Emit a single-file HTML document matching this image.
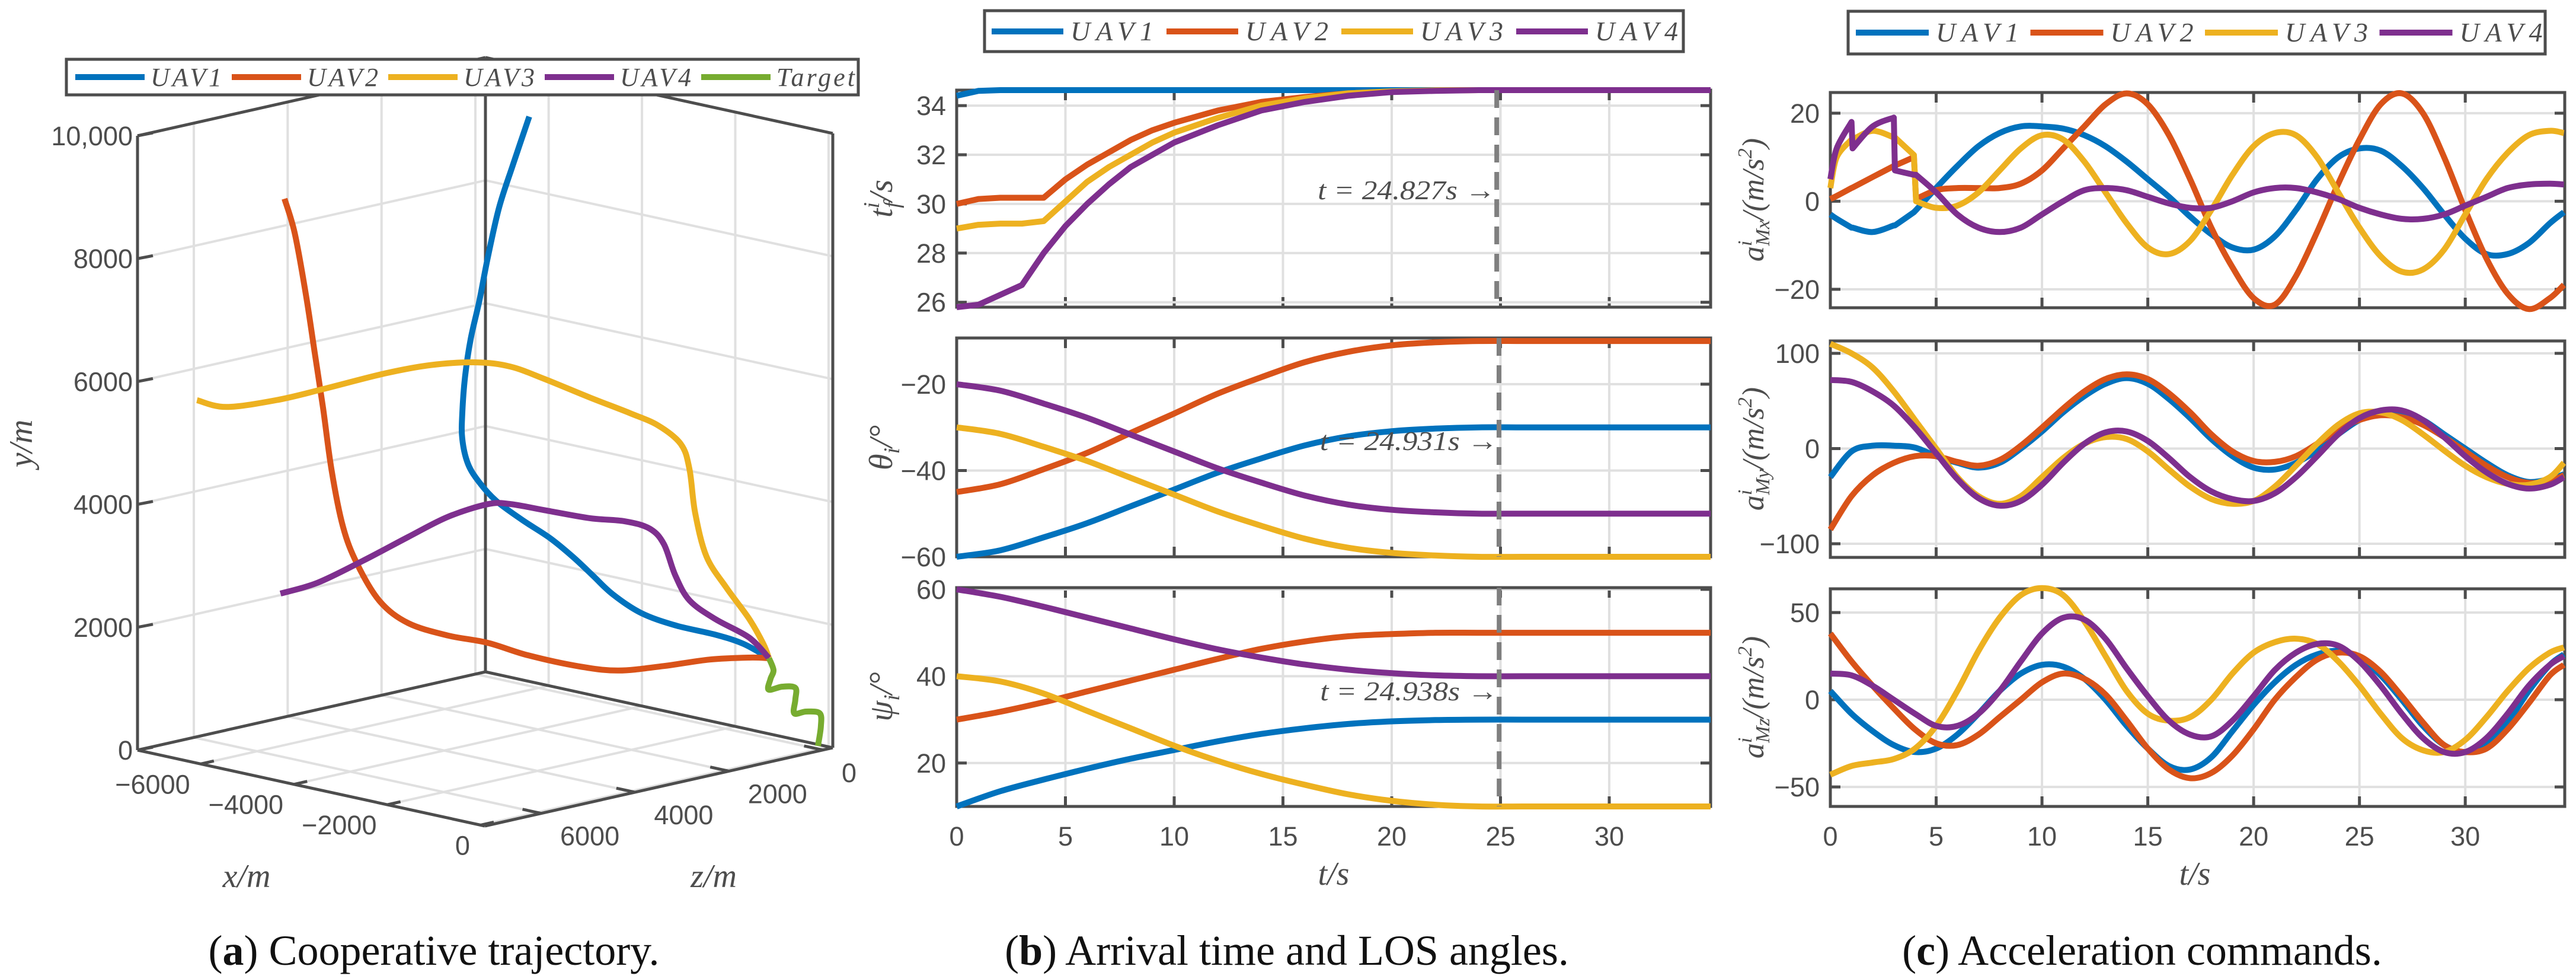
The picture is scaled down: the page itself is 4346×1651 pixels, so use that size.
<!DOCTYPE html>
<html><head><meta charset="utf-8">
<style>
html,body{margin:0;padding:0;background:#fff;}
svg{display:block;}
.tk{font-family:"Liberation Sans",sans-serif;font-size:45px;fill:#4d4d4d;}
.it{font-family:"Liberation Serif",serif;font-style:italic;fill:#4d4d4d;}
.cap{font-family:"Liberation Serif",serif;font-size:72px;fill:#111;}
</style></head>
<body>
<svg id="fig" width="4346" height="1651" viewBox="0 0 4346 1651" xmlns="http://www.w3.org/2000/svg">
<rect x="0" y="0" width="4346" height="1651" fill="#fff"/>
<g id="layer-a"></g>
<g id="layer-b"></g>
<g id="layer-c"></g>

<text class="it" font-size="56" transform="translate(54,748) rotate(-90)" text-anchor="middle">y/m</text>
<text class="it" font-size="56" x="416" y="1496" text-anchor="middle">x/m</text>
<text class="it" font-size="56" x="1204" y="1496" text-anchor="middle">z/m</text>
<text class="cap" x="732" y="1627" text-anchor="middle">(<tspan font-weight="bold">a</tspan>) Cooperative trajectory.</text>

<text class="it" font-size="56" transform="translate(1505,335) rotate(-90)" text-anchor="middle">t<tspan font-size="38" dy="-22">i</tspan><tspan font-size="38" dx="-10" dy="34">f</tspan><tspan dy="-12">/s</tspan></text>
<text class="it" font-size="56" transform="translate(1505,755) rotate(-90)" text-anchor="middle">θ<tspan font-size="38" dy="12">i</tspan><tspan dy="-12">/°</tspan></text>
<text class="it" font-size="56" transform="translate(1505,1175) rotate(-90)" text-anchor="middle">ψ<tspan font-size="38" dy="12">i</tspan><tspan dy="-12">/°</tspan></text>
<text class="it" font-size="56" x="2250" y="1492" text-anchor="middle">t/s</text>
<text class="cap" x="2171" y="1627" text-anchor="middle">(<tspan font-weight="bold">b</tspan>) Arrival time and LOS angles.</text>

<text class="it" font-size="52" transform="translate(2975,337) rotate(-90)" text-anchor="middle">a<tspan font-size="34" dy="-20">i</tspan><tspan font-size="34" dx="-9" dy="30">Mx</tspan><tspan dy="-10">/(m/s</tspan><tspan font-size="34" dy="-20">2</tspan><tspan dy="20">)</tspan></text>
<text class="it" font-size="52" transform="translate(2975,757) rotate(-90)" text-anchor="middle">a<tspan font-size="34" dy="-20">i</tspan><tspan font-size="34" dx="-9" dy="30">My</tspan><tspan dy="-10">/(m/s</tspan><tspan font-size="34" dy="-20">2</tspan><tspan dy="20">)</tspan></text>
<text class="it" font-size="52" transform="translate(2975,1176) rotate(-90)" text-anchor="middle">a<tspan font-size="34" dy="-20">i</tspan><tspan font-size="34" dx="-9" dy="30">Mz</tspan><tspan dy="-10">/(m/s</tspan><tspan font-size="34" dy="-20">2</tspan><tspan dy="20">)</tspan></text>
<text class="it" font-size="56" x="3703" y="1492" text-anchor="middle">t/s</text>
<text class="cap" x="3614" y="1627" text-anchor="middle">(<tspan font-weight="bold">c</tspan>) Acceleration commands.</text>
</svg>

<script>
const uav1X = [-3160,-3330,-3482,-3604,-3695,-3786,-3847,-3877,-3877,-3817,-3695,-3512,-3239,-2934,-2691,-2478,-2265,-1961,-1596,-1170,-866,-593];
const uav1Y = [10290,9527,8815,8001,7289,6679,6069,5459,5052,4645,4340,4035,3730,3425,3120,2815,2509,2204,2001,1848,1696,1462];
const uav1Z = [3023,3192,3344,3465,3556,3647,3707,3738,3738,3677,3556,3374,3102,2799,2556,2344,2132,1830,1466,1042,739,467];
const uav2X = [-5781,-5672,-5550,-5459,-5368,-5276,-5155,-5003,-4759,-4455,-4029,-3604,-3117,-2630,-2205,-1718,-1231,-805,-593];
const uav2Y = [8967,8408,7391,6476,5561,4543,3628,3018,2408,2052,1848,1727,1544,1340,1269,1340,1442,1472,1462];
const uav2Z = [5633,5524,5403,5312,5222,5131,5010,4858,4616,4313,3889,3465,3102,2496,2072,1587,1103,679,467];
const uav3X = [-6718,-6402,-5854,-5368,-4699,-4212,-3725,-3360,-2995,-2509,-2083,-1779,-1535,-1444,-1383,-1262,-1049,-805,-653,-593];
const uav3Y = [5693,5581,5693,5866,6120,6252,6293,6222,6018,5713,5459,5255,4950,4544,3831,3120,2611,2103,1696,1462];
const uav3Z = [6566,6251,5706,5222,4555,4071,3586,3223,2859,2375,1951,1648,1406,1315,1254,1133,921,679,527,467];
const uav4X = [-5824,-5429,-4942,-4455,-4029,-3604,-3360,-2995,-2509,-2144,-1870,-1718,-1596,-1444,-1170,-805,-593];
const uav4Y = [2540,2713,3069,3455,3781,3984,3984,3883,3750,3700,3577,3323,2815,2408,2103,1798,1462];
const uav4Z = [5676,5282,4798,4313,3889,3465,3223,2859,2375,2011,1739,1587,1466,1315,1042,679,467];
const targetX = [-69,-37,-50,-196,-323,-311,-311,-450,-596,-577,-545,-593];
const targetY = [30,348,561,590,562,784,977,997,950,1123,1268,1462];
const targetZ = [-56,-87,-75,71,197,185,185,324,470,450,418,467];
const xTicks3 = [-6000,-4000,-2000,0];
const zTicks3 = [0,2000,4000,6000];
const yTicks3 = [0,2000,4000,6000,8000,10000];
const yTickLabels3 = ['0','2000','4000','6000','8000','10,000'];

const tB = [0,1,2,3,4,5,6,7,8,9,10,12,14,16,18,20,22,24,26,28,30,32,34.66];
const tf1 = [34.4,34.6,34.63,34.63,34.63,34.63,34.63,34.63,34.63,34.63,34.63,34.63,34.63,34.63,34.63,34.63,34.63,34.63,34.63,34.63,34.63,34.63,34.63];
const tf2 = [30,30.2,30.25,30.25,30.25,31,31.6,32.1,32.6,33,33.3,33.8,34.15,34.35,34.5,34.58,34.62,34.63,34.63,34.63,34.63,34.63,34.63];
const tf3 = [29,29.15,29.2,29.2,29.3,30.1,30.9,31.5,32,32.5,32.9,33.5,34,34.3,34.5,34.58,34.62,34.63,34.63,34.63,34.63,34.63,34.63];
const tf4 = [25.8,25.9,26.3,26.7,28,29.1,30,30.8,31.5,32,32.5,33.2,33.8,34.15,34.4,34.55,34.6,34.63,34.63,34.63,34.63,34.63,34.63];
const tA = [0,2,4,6,8,10,12,14,16,18,20,22,24,26,28,30,32,34.66];
const th1 = [-60,-58.5,-55.5,-52.2,-48.3,-44.4,-40.5,-37.2,-34.2,-32.1,-30.9,-30.3,-30,-30,-30,-30,-30,-30];
const th2 = [-45,-43.2,-39.7,-35.9,-31.3,-26.8,-22.2,-18.4,-14.9,-12.5,-11,-10.3,-10,-10,-10,-10,-10,-10];
const th3 = [-30,-31.5,-34.5,-37.8,-41.7,-45.6,-49.5,-52.8,-55.8,-57.9,-59.1,-59.7,-60,-60,-60,-60,-60,-60];
const th4 = [-20,-21.5,-24.5,-27.8,-31.7,-35.6,-39.5,-42.8,-45.8,-47.9,-49.1,-49.7,-50,-50,-50,-50,-50,-50];
const ps1 = [10,13.5,16.2,18.7,21,23,25,26.7,28,29,29.6,29.9,30,30,30,30,30,30];
const ps2 = [30,31.8,34,36.5,39,41.5,44,46.3,48,49.2,49.7,50,50,50,50,50,50,50];
const ps3 = [40,38.8,36,32,28,24,20.5,17.5,15,12.8,11.3,10.4,10,10,10,10,10,10];
const ps4 = [60,58.3,56,53.5,51,48.5,46.2,44.3,42.7,41.5,40.7,40.2,40,40,40,40,40,40];
const convTimes = [24.827,24.931,24.938];
const convLabels = ['t = 24.827s →','t = 24.931s →','t = 24.938s →'];
const xTicksB = [0,5,10,15,20,25,30];
const yTicksTf = [26,28,30,32,34];
const yTicksTh = [-60,-40,-20];
const yTicksPs = [20,40,60];

const tCx = [0,0.3,1,1.05,2,3,3.05,3.95,4.05,5,6,7,8,9,10,11,12,13,14,15,16,17,18,19,20,21,22,23,24,25,26,27,28,29,30,31,32,33,34,34.66];
const mx1 = [-3,-4,-6,-6,-7,-5.5,-5.5,-2.5,-2,3,8,12.5,15.5,17,17,16.5,15,12.5,9,5,1,-3.5,-7.5,-10.5,-11,-8,-2,5,10,12,11.5,8,3,-3,-8.5,-12,-12,-9.5,-5,-2.5];
const mx2 = [0.5,1.2,3,3.1,5.5,8,8.1,10,0.5,2.5,3,3,3,4,7,12,17,22,24.5,22,15,5,-6,-15,-22,-23.5,-17,-7,4,14,22,24.5,20,10,-2,-13,-21,-24.5,-22,-19];
const mx3 = [3,10,14,14,16,14.5,14.5,10.5,0,-1.5,-1,2,7,12,15,14,9,2,-5,-10.5,-12,-9,-2,6,12.5,15.5,15,10,2,-6,-12.5,-16,-15.5,-11,-3,5,11,15,16,15.5];
const mx4 = [5,12,18,12,17,19,7,6,6,2,-3,-6,-7,-6,-3,0,2.5,3,2.5,1,-0.5,-1.5,-1.5,0,2,3,3,2,0.5,-1.5,-3,-4,-4,-3,-1,1,3,3.8,4,3.8];
const tC = [0,1,2,3,4,5,6,7,8,9,10,11,12,13,14,15,16,17,18,19,20,21,22,23,24,25,26,27,28,29,30,31,32,33,34,34.66];
const my1 = [-30,-3,3,3,1,-8,-15,-20,-15,0,18,38,55,68,74,68,52,32,10,-8,-20,-22,-15,-2,15,30,38,38,30,15,0,-15,-28,-35,-32,-27];
const my2 = [-85,-50,-28,-15,-8,-8,-14,-18,-12,3,22,42,60,73,78,73,58,38,15,-3,-13,-14,-8,5,20,30,35,33,25,12,-3,-18,-30,-36,-34,-28];
const my3 = [110,100,85,60,30,0,-30,-50,-58,-50,-30,-10,5,12,10,-3,-22,-40,-53,-58,-55,-40,-18,5,25,37,38,30,15,-2,-18,-30,-37,-38,-30,-15];
const my4 = [72,70,60,45,22,-5,-32,-52,-60,-55,-38,-15,5,17,18,8,-10,-30,-45,-53,-55,-47,-30,-8,15,32,40,40,30,12,-8,-25,-37,-42,-38,-30];
const mz1 = [5,-8,-18,-26,-30,-28,-20,-8,5,15,20,19,12,0,-15,-28,-38,-40,-33,-18,-3,10,20,26,28,24,14,0,-15,-26,-30,-26,-13,5,20,26];
const mz2 = [38,22,8,-5,-17,-25,-26,-20,-10,0,10,15,12,3,-12,-28,-40,-45,-42,-32,-17,0,13,23,27,25,16,2,-13,-26,-30,-28,-17,-2,14,20];
const mz3 = [-43,-38,-36,-34,-28,-15,5,28,47,60,64,60,45,25,5,-8,-12,-10,0,15,27,33,35,32,22,8,-8,-22,-29,-30,-23,-10,5,18,27,30];
const mz4 = [15,14,8,0,-8,-15,-15,-8,5,22,38,47,46,35,18,2,-12,-20,-21,-12,2,17,27,32,31,22,8,-8,-22,-30,-30,-22,-8,8,20,25];
const yTicksMx = [-20,0,20];
const yTicksMy = [-100,0,100];
const yTicksMz = [-50,0,50];
const seriesNames = ['UAV1','UAV2','UAV3','UAV4','Target'];

const NS = 'http://www.w3.org/2000/svg';
const COLORS = ['#0072BD','#D95319','#EDB120','#7E2F8E','#77AC30'];
const AX = '#4d4d4d', GRID = '#e0e0e0';
const LW = 10;
function mk(tag, attrs, parent){
  const e = document.createElementNS(NS, tag);
  for (const k in attrs) e.setAttribute(k, attrs[k]);
  parent.appendChild(e);
  return e;
}
function fmt(v){ return (v < 0 ? '\u2212' : '') + Math.abs(v); }
function smoothPath(pts, ts){
  let d = 'M' + pts[0][0].toFixed(1) + ',' + pts[0][1].toFixed(1);
  const n = pts.length;
  const J = 0.1;
  for (let i = 0; i < n - 1; i++){
    const p1 = pts[i], p2 = pts[i+1];
    if (ts[i+1] - ts[i] < J){ d += 'L' + p2[0].toFixed(1) + ',' + p2[1].toFixed(1); continue; }
    let p0 = (i > 0 && ts[i] - ts[i-1] >= J) ? pts[i-1] : p1;
    let p3 = (i + 2 < n && ts[i+2] - ts[i+1] >= J) ? pts[i+2] : p2;
    const c1 = [p1[0] + (p2[0]-p0[0])/6, p1[1] + (p2[1]-p0[1])/6];
    const c2 = [p2[0] - (p3[0]-p1[0])/6, p2[1] - (p3[1]-p1[1])/6];
    d += 'C' + c1[0].toFixed(1) + ',' + c1[1].toFixed(1) + ' ' + c2[0].toFixed(1) + ',' + c2[1].toFixed(1) + ' ' + p2[0].toFixed(1) + ',' + p2[1].toFixed(1);
  }
  return d;
}

(function(){
  const g = document.getElementById('layer-a');
  const XMIN = -7355, XMAX = 90, ZMIN = -214, ZMAX = 7200;
  const R = [1405, 1261], BU = [-586, -128], FV = [-587, 132], YS = 0.1036;
  function P(x, y, z){
    const u = (XMAX - x) / (XMAX - XMIN), v = (z - ZMIN) / (ZMAX - ZMIN);
    return [R[0] + u*BU[0] + v*FV[0], R[1] + u*BU[1] + v*FV[1] - y*YS];
  }
  function seg(a, b, color, w, name){
    const l = mk('line', {x1:a[0], y1:a[1], x2:b[0], y2:b[1], stroke:color, 'stroke-width':w, 'stroke-linecap':'butt'}, g);
    
    
    return l;
  }
  yTicks3.forEach(y => { if (y === 0 || y === 10000) return;
    seg(P(XMIN,y,ZMAX), P(XMIN,y,ZMIN), GRID, 4, 'grid-line-y-left-wall');
    seg(P(XMIN,y,ZMIN), P(XMAX,y,ZMIN), GRID, 4, 'grid-line-y-back-wall');
  });
  zTicks3.forEach(z => {
    seg(P(XMIN,0,z), P(XMIN,10000,z), GRID, 4, 'grid-line-z-wall');
    seg(P(XMIN,0,z), P(XMAX,0,z), GRID, 4, 'grid-line-z-floor');
  });
  xTicks3.forEach(x => {
    seg(P(x,0,ZMIN), P(x,10000,ZMIN), GRID, 4, 'grid-line-x-wall');
    seg(P(x,0,ZMIN), P(x,0,ZMAX), GRID, 4, 'grid-line-x-floor');
  });
  const LB = P(XMIN,0,ZMAX), BB = P(XMIN,0,ZMIN), RB = P(XMAX,0,ZMIN), FB = P(XMAX,0,ZMAX);
  const LT = P(XMIN,10000,ZMAX), BT = P(XMIN,10000,ZMIN), RT = P(XMAX,10000,ZMIN);
  [[LB,BB],[BB,RB],[LB,FB],[FB,RB],[BB,BT],[LB,LT],[RB,RT],[LT,BT],[BT,RT]].forEach(e => seg(e[0], e[1], AX, 5, 'axis-box-edge'));
  yTicks3.forEach((y, i) => {
    const p = P(XMIN, y, ZMAX);
    seg(p, [p[0]+26, p[1]-5], AX, 5, 'y-tick-mark');
    const t = mk('text', {x:p[0]-8, y:p[1]+16, 'text-anchor':'end', class:'tk'}, g);
    t.textContent = yTickLabels3[i];
    
    
  });
  xTicks3.forEach(x => {
    const p = P(x, 0, ZMAX), q = P(x, 0, ZMAX - 280);
    seg(p, q, AX, 5, 'x-tick-mark');
    const t = mk('text', {x:p[0]-18, y:p[1]+50, 'text-anchor':'end', class:'tk'}, g);
    t.textContent = fmt(x);
    
    
  });
  zTicks3.forEach(z => {
    const p = P(XMAX, 0, z), q = P(XMAX - 400, 0, z);
    seg(p, q, AX, 5, 'z-tick-mark');
    const t = mk('text', {x:p[0]+32, y:p[1]+54, 'text-anchor':'start', class:'tk'}, g);
    t.textContent = fmt(z);
    
    
  });
  const series = [[uav1X,uav1Y,uav1Z],[uav2X,uav2Y,uav2Z],[uav3X,uav3Y,uav3Z],[uav4X,uav4Y,uav4Z],[targetX,targetY,targetZ]];
  series.forEach((s, k) => {
    const pts = s[0].map((x, i) => P(x, s[1][i], s[2][i]));
    const idx = pts.map((_, i) => i);
    const path = mk('path', {d:smoothPath(pts, idx), fill:'none', stroke:COLORS[k], 'stroke-width':LW, 'stroke-linejoin':'round', 'stroke-linecap':'butt'}, g);
    
    
  });
  const lg = mk('g', {}, g);
  
  
  mk('rect', {x:112, y:100, width:1336, height:60, fill:'#fff', stroke:AX, 'stroke-width':5}, lg);
  seriesNames.forEach((nm, k) => {
    const x0 = 127 + 264*k;
    const l = mk('line', {x1:x0, y1:130, x2:x0+117, y2:130, stroke:COLORS[k], 'stroke-width':LW}, lg);
    
    
    const t = mk('text', {x:x0+127, y:145, class:'it', 'font-size':44, textLength: nm === 'Target' ? 132 : 120, lengthAdjust:'spacing'}, lg);
    t.textContent = nm;
    
    
  });
})();

function axes2D(g, name, box, xlim, ylim, xticks, yticks, showX){
  const sx = v => box.l + (v - xlim[0]) / (xlim[1] - xlim[0]) * (box.r - box.l);
  const sy = v => box.b - (v - ylim[0]) / (ylim[1] - ylim[0]) * (box.b - box.t);
  const ag = mk('g', {}, g);
  
  
  xticks.forEach(v => {
    const x = sx(v);
    const gl = mk('line', {x1:x, y1:box.t, x2:x, y2:box.b, stroke:GRID, 'stroke-width':4}, ag);
    
    
    const t1 = mk('line', {x1:x, y1:box.b, x2:x, y2:box.b-17, stroke:AX, 'stroke-width':5}, ag);
    
    
    const t2 = mk('line', {x1:x, y1:box.t, x2:x, y2:box.t+17, stroke:AX, 'stroke-width':5}, ag);
    
    
    if (showX){
      const t = mk('text', {x:x, y:box.b+66, 'text-anchor':'middle', class:'tk'}, ag);
      t.textContent = fmt(v);
      
      
    }
  });
  yticks.forEach(v => {
    const y = sy(v);
    const gl = mk('line', {x1:box.l, y1:y, x2:box.r, y2:y, stroke:GRID, 'stroke-width':4}, ag);
    
    
    const t1 = mk('line', {x1:box.l, y1:y, x2:box.l+17, y2:y, stroke:AX, 'stroke-width':5}, ag);
    
    
    const t2 = mk('line', {x1:box.r, y1:y, x2:box.r-17, y2:y, stroke:AX, 'stroke-width':5}, ag);
    
    
    const t = mk('text', {x:box.l-18, y:y+16, 'text-anchor':'end', class:'tk'}, ag);
    t.textContent = fmt(v);
    
    
  });
  const fr = mk('rect', {x:box.l, y:box.t, width:box.r-box.l, height:box.b-box.t, fill:'none', stroke:AX, 'stroke-width':5}, ag);
  
  
  return {sx, sy, g:ag};
}
function drawSeries(ax, ts, vals, k, smooth, name){
  const pts = ts.map((t, i) => [ax.sx(t), ax.sy(vals[i])]);
  let d;
  if (smooth) d = smoothPath(pts, ts);
  else d = 'M' + pts.map(p => p[0].toFixed(1) + ',' + p[1].toFixed(1)).join('L');
  const p = mk('path', {d:d, fill:'none', stroke:COLORS[k], 'stroke-width':LW, 'stroke-linejoin':'round'}, ax.g);
  
  
}
function legend(g, name, bx, by, bw, bh, lx, step, lineLen, cy){
  const lg = mk('g', {}, g);
  
  
  mk('rect', {x:bx, y:by, width:bw, height:bh, fill:'#fff', stroke:AX, 'stroke-width':5}, lg);
  for (let k = 0; k < 4; k++){
    const x0 = lx + step*k;
    const l = mk('line', {x1:x0, y1:cy, x2:x0+lineLen, y2:cy, stroke:COLORS[k], 'stroke-width':LW}, lg);
    
    
    const t = mk('text', {x:x0+lineLen+12, y:cy+15, class:'it', 'font-size':46, textLength:140, lengthAdjust:'spacing'}, lg);
    t.textContent = seriesNames[k];
    
    
  }
}

(function(){
  const g = document.getElementById('layer-b');
  const xl = [0, 34.66];
  const boxes = [{l:1614,r:2886,t:152,b:518},{l:1614,r:2886,t:570,b:939},{l:1614,r:2886,t:991,b:1360}];
  const a1 = axes2D(g, 'axes-arrival-time', boxes[0], xl, [25.8,34.63], xTicksB, yTicksTf, false);
  const a2 = axes2D(g, 'axes-theta', boxes[1], xl, [-60,-9.3], xTicksB, yTicksTh, false);
  const a3 = axes2D(g, 'axes-psi', boxes[2], xl, [10,60.4], xTicksB, yTicksPs, true);
  [tf1,tf2,tf3,tf4].forEach((s,k) => drawSeries(a1, tB, s, k, false, 'tf-line-uav' + (k+1)));
  [th1,th2,th3,th4].forEach((s,k) => drawSeries(a2, tA, s, k, true, 'theta-line-uav' + (k+1)));
  [ps1,ps2,ps3,ps4].forEach((s,k) => drawSeries(a3, tA, s, k, true, 'psi-line-uav' + (k+1)));
  const annY = [321, 744, 1166];
  [a1,a2,a3].forEach((ax, i) => {
    const x = ax.sx(convTimes[i]);
    const bx = boxes[i];
    const dl = mk('line', {x1:x, y1:bx.t, x2:x, y2:bx.b, stroke:'#7f7f7f', 'stroke-width':8, 'stroke-dasharray':'30 16'}, ax.g);
    
    
    const t = mk('text', {x:x-2, y:annY[i]+15, 'text-anchor':'end', class:'it', 'font-size':46, fill:'#222', textLength:300, lengthAdjust:'spacingAndGlyphs'}, ax.g);
    t.textContent = convLabels[i];
    
    
  });
  legend(g, 'legend-b', 1661, 18, 1179, 69, 1673, 295, 121, 53);
})();

(function(){
  const g = document.getElementById('layer-c');
  const xl = [0, 34.7];
  const c1 = axes2D(g, 'axes-amx', {l:3088,r:4327,t:156,b:519}, xl, [-24.2,24.7], xTicksB, yTicksMx, false);
  const c2 = axes2D(g, 'axes-amy', {l:3088,r:4327,t:575,b:940}, xl, [-114.3,113], xTicksB, yTicksMy, false);
  const c3 = axes2D(g, 'axes-amz', {l:3088,r:4327,t:993,b:1360}, xl, [-61.2,63.6], xTicksB, yTicksMz, true);
  [mx1,mx2,mx3,mx4].forEach((s,k) => drawSeries(c1, tCx, s, k, true, 'amx-line-uav' + (k+1)));
  [my1,my2,my3,my4].forEach((s,k) => drawSeries(c2, tC, s, k, true, 'amy-line-uav' + (k+1)));
  [mz1,mz2,mz3,mz4].forEach((s,k) => drawSeries(c3, tC, s, k, true, 'amz-line-uav' + (k+1)));
  legend(g, 'legend-c', 3118, 19, 1176, 72, 3131, 294.5, 123, 55);
})();
</script>
</body></html>
